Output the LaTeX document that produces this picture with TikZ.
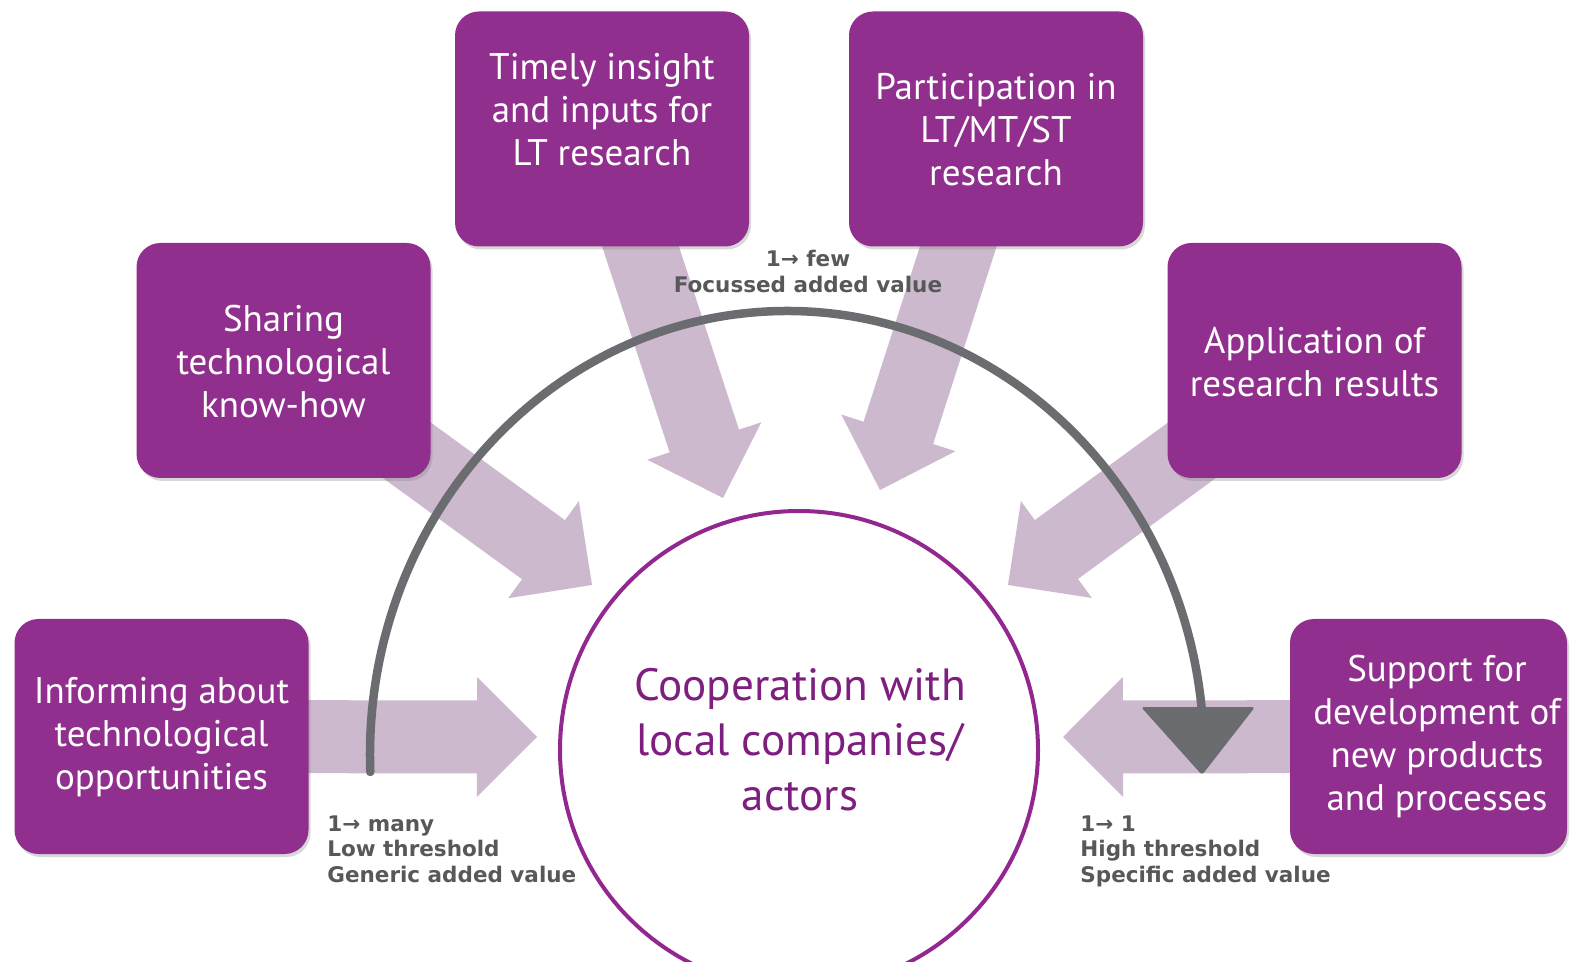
\documentclass[tikz,border=0pt]{standalone}
\usepackage{fontspec}
\setmainfont{PT Sans}
\newfontfamily\labelfont{DejaVu Sans}
\usetikzlibrary{calc,shadows}
\definecolor{boxpurple}{HTML}{912F8E}
\definecolor{darkpurple}{HTML}{7E1F80}
\definecolor{circlepurple}{HTML}{92278F}
\definecolor{mauve}{HTML}{CDB9CD}
\definecolor{arcgray}{HTML}{6B6C70}
\definecolor{labelgray}{HTML}{57585A}
\newcommand\blockarrow[2]{%
  \coordinate (ba-h) at ($(#2)!30pt!(#1)$);
  \fill[mauve] (#2)
    -- ($(ba-h)!30pt!90:(#2)$)
    -- ($(ba-h)!18.25pt!90:(#2)$)
    -- ($(#1)!18.25pt!90:(#2)$)
    -- ($(#1)!18.25pt!-90:(#2)$)
    -- ($(ba-h)!18.25pt!-90:(#2)$)
    -- ($(ba-h)!30pt!-90:(#2)$)
    -- cycle;
}
\tikzset{
  box/.style={fill=boxpurple, draw=none, rounded corners=12pt,
    minimum width=147pt, minimum height=117.5pt, inner sep=0pt,
    drop shadow={shadow xshift=1pt, shadow yshift=-1.5pt, opacity=0.3}},
  boxtext/.style={text=white, align=center, inner sep=0pt,
    font=\fontsize{18.5}{21.5}\selectfont},
  lbl/.style={text=labelgray, inner sep=0pt,
    font=\labelfont\bfseries\fontsize{10.75}{12.75}\selectfont},
}
\begin{document}
\begin{tikzpicture}[x=0.5pt, y=-0.5pt]
\clip (0,0) rectangle (1570,962);
\fill[white] (0,0) rectangle (1570,962);

% box positions
\coordinate (c-timely) at (602,129);
\coordinate (c-part) at (996,129);
\coordinate (c-share) at (283.5,360.5);
\coordinate (c-appl) at (1314.5,360.5);
\coordinate (c-inform) at (161.5,736.5);
\coordinate (c-support) at (1428.5,736.5);

% arrow tips
\coordinate (t-timely) at (723,498);
\coordinate (t-part) at (880,490);
\coordinate (t-share) at (592,585);
\coordinate (t-appl) at (1008,585);
\coordinate (t-inform) at (537,737);
\coordinate (t-support) at (1063,737);

\blockarrow{c-timely}{t-timely}
\blockarrow{c-part}{t-part}
\blockarrow{c-share}{t-share}
\blockarrow{c-appl}{t-appl}
\blockarrow{c-inform}{t-inform}
\blockarrow{c-support}{t-support}

% boxes
\node[box] (timely) at (c-timely) {};
\node[box] (part) at (c-part) {};
\node[box] (share) at (c-share) {};
\node[box] (appl) at (c-appl) {};
\node[box] (inform) at (c-inform) {};
\node[box, minimum width=138.5pt] (support) at (c-support) {};

\node[boxtext] (timely-t) at (602,110) {Timely insight\\and inputs for\\LT research};
\node[boxtext] (part-t) at (996,130) {Participation in\\LT/MT/ST\\research};
\node[boxtext] (share-t) at (283.5,362) {Sharing\\technological\\know-how};
\node[boxtext] (appl-t) at (1314.5,362) {Application of\\research results};
\node[boxtext] (inform-t) at (161.5,737) {Informing about\\technological\\opportunities};
\node[boxtext] (support-t) at (1437,737) {Support for\\development of\\new products\\and processes};

% central circle
\node[circle, draw=circlepurple, line width=2pt, minimum size=239pt, inner sep=0pt] (coop) at (799,750) {};
\node[text=darkpurple, align=center, inner sep=0pt,
  font=\fontsize{22.6}{27.5}\selectfont] (coop-t) at (800,740)
  {Cooperation with\\local companies/\\actors};

% gray arc with arrowhead
\coordinate (arcstart) at (370.3,772);
\draw[arcgray, line width=4.25pt, line cap=round]
  (arcstart) arc[start angle=177.8, end angle=355, x radius=417, y radius=444];
\coordinate (headtip) at (1202,775);
\coordinate (headL) at (1141,707);
\coordinate (headR) at (1255,707);
\fill[arcgray, rounded corners=1.5pt] (headL) -- (headR) -- (headtip) -- cycle;

% labels
\node[lbl, align=center, anchor=north] (few) at (808,250) {1→ few\\Focussed added value};
\node[lbl, align=left, anchor=north west] (many) at (327,815) {1→ many\\Low threshold\\Generic added value};
\node[lbl, align=left, anchor=north west] (one) at (1080,815) {1→ 1\\High threshold\\Specific added value};
\end{tikzpicture}
\end{document}
